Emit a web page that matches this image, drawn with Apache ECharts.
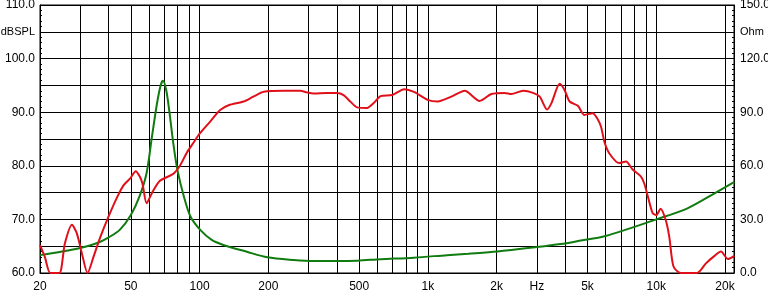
<!DOCTYPE html>
<html>
<head>
<meta charset="utf-8">
<script src="https://cdn.jsdelivr.net/npm/echarts@6/dist/echarts.min.js"></script>
<style>
html,body{margin:0;padding:0;background:#fff;}
#c{width:768px;height:300px;}
</style>
</head>
<body>
<div id="c"></div>
<script>
// ---- data ----
var splFreq = [20,21,22.2,24.3,25.7,27.6,29.0,30.5,32.3,34.3,36.6,39.9,43.6,46.5,49.8,52.5,54.7,56.2,58.6,61.8,67,76.7,82,88,94,100,111.5,123,134,156,172,191,233,276,295,316,361,400,427,457,490,541,579,620,698,787,869,997,1103,1266,1449,1685,1897,2169,2320,2610,2887,3088,3323,3475,3776,3970,4175,4536,4845,5269,5540,5730,5926,6233,6890,7370,7880,8570,8860,9160,9630,10000,10450,11000,11400,11900,12800,15100,16500,18000,19200,20600,22000];
var splDb = [65.2,63,60,60,65.5,69,67.4,63.7,60,63,66.5,70.5,74.2,76.4,77.7,79.0,78,76.7,73,74.9,77.2,78.5,80,82.5,84.3,86,88.3,90.4,91.3,92,92.9,93.8,94,94,93.7,93.5,93.6,93.6,93.2,92,90.9,90.8,91.7,93,93.2,94.3,93.8,92.3,92,92.9,94,92.1,93.4,93.6,93.4,94,93.6,92.9,90.5,91.7,95.3,94.1,92,91.2,89.5,89.8,88.7,87.3,84.5,82.3,80.5,80.8,79.3,78,76.7,74.5,71.2,70.8,72,69.9,66.8,61.2,60,60,61.8,63.2,64,62.6,63.2];

var impFreq = [20,25,30,35.6,40,44.8,50,54.6,58.6,61.8,65.1,67.5,69.1,71.4,73.6,76.7,80,85.4,91.3,100.9,113,127,161,198,258,316,400,491,620,869,1211,1500,2013,3000,3810,4600,6000,10000,13700,18000,22000];
var impOhm = [10,12,14,16.8,20,24.3,32.5,43,56,76,95,105,107.6,102.4,91,72.6,57.6,42.7,31.5,24,18.5,15.7,11.9,8.8,7.3,6.7,6.7,6.9,7.7,8.6,10,10.8,12,14.5,16.2,18,20.7,30,36.2,44.6,51];

var gridFreqs = [30,40,50,60,70,80,90,100,200,300,400,500,600,700,800,900,1000,2000,3000,4000,5000,6000,7000,8000,9000,10000,20000];
var labelFreqs = [20,50,100,200,500,1000,2000,3000,5000,10000,20000];
var labelTexts = ['20','50','100','200','500','1k','2k','Hz','5k','10k','20k'];

var leftLabels = {60:'60.0',70:'70.0',80:'80.0',90:'90.0',100:'100.0',105:'dBSPL',110:'110.0'};
var rightLabels = {0:'0.0',30:'30.0',60:'60.0',90:'90.0',120:'120.0',135:'Ohm',150:'150.0'};

// ---- chart ----
function lg(f){return Math.log10(f);}
function pairs(fs, vs){var o=[];for(var i=0;i<fs.length;i++)o.push([lg(fs[i]),vs[i]]);return o;}
var labelMap = {};
labelFreqs.forEach(function(f,i){labelMap[lg(f).toFixed(4)] = labelTexts[i];});
function unitFmt(map){
  return function(v){var t=map[v]; if(t===undefined) return ''; return /^[0-9.]+$/.test(t)? t : '{u|'+t+'}';};
}

var FONT = 'Liberation Sans, Arial, sans-serif';
var chart = echarts.init(document.getElementById('c'), null, {renderer:'canvas'});
chart.setOption({
  animation:false,
  backgroundColor:'#ffffff',
  grid:{left:40,right:34,top:5,bottom:27,show:true,borderColor:'#000',borderWidth:1,containLabel:false,outerBoundsMode:'none'},
  xAxis:{
    type:'value', min:lg(20), max:lg(21900),
    axisLine:{show:true,lineStyle:{color:'#000',width:1}},
    splitLine:{show:false},
    axisTick:{show:true,inside:true,length:268,customValues:gridFreqs.map(lg),lineStyle:{color:'#000',width:1}},
    axisLabel:{show:true,customValues:labelFreqs.map(lg),margin:8,color:'#000',fontFamily:FONT,fontSize:12,
      alignMinLabel:'center',alignMaxLabel:'center',
      formatter:function(v){var t=labelMap[Number(v).toFixed(4)];return t===undefined?'':t;}}
  },
  yAxis:[{
    type:'value', min:60, max:110, interval:5, position:'left',
    axisLine:{show:true,lineStyle:{color:'#000'}},
    splitLine:{show:true,lineStyle:{color:'#000',width:1}},
    axisTick:{show:true,inside:true,length:4,lineStyle:{color:'#000'}},
    minorTick:{show:true,splitNumber:5,length:2,lineStyle:{color:'#000'}},
    axisLabel:{margin:5,color:'#000',fontFamily:FONT,fontSize:12,formatter:unitFmt(leftLabels),
      rich:{u:{fontSize:11,fontFamily:FONT,color:'#000'}}}
  },{
    type:'value', min:0, max:150, interval:15, position:'right',
    axisLine:{show:true,lineStyle:{color:'#000'}},
    splitLine:{show:false},
    axisTick:{show:true,inside:true,length:4,lineStyle:{color:'#000'}},
    minorTick:{show:true,splitNumber:5,length:2,lineStyle:{color:'#000'}},
    axisLabel:{margin:6,color:'#000',fontFamily:FONT,fontSize:12,formatter:unitFmt(rightLabels),
      rich:{u:{fontSize:11,fontFamily:FONT,color:'#000'}}}
  }],
  series:[{
    type:'line', name:'Impedance', yAxisIndex:1, data:pairs(impFreq,impOhm),
    showSymbol:false, smooth:0.3, lineStyle:{color:'#107c10',width:2}, z:3
  },{
    type:'line', name:'SPL', yAxisIndex:0, data:pairs(splFreq,splDb),
    showSymbol:false, smooth:0.25, lineStyle:{color:'#e0101a',width:2}, z:4
  }]
});
</script>
</body>
</html>
